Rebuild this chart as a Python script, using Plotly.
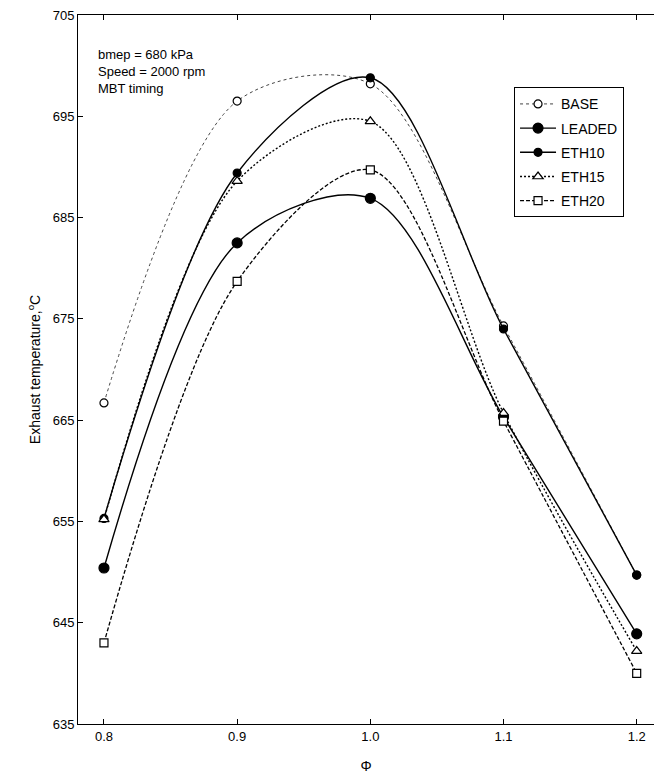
import plotly.graph_objects as go

# Equivalence ratio
phi = [0.8, 0.9, 1.0, 1.1, 1.2]

# Exhaust temperature (°C) per fuel
base = [666.7, 696.5, 698.2, 674.3, 649.7]
leaded = [650.4, 682.5, 686.9, 665.3, 643.9]
eth10 = [655.3, 689.4, 698.8, 674.0, 649.7]
eth15 = [655.2, 688.6, 694.5, 665.7, 642.2]
eth20 = [643.0, 678.7, 689.7, 664.9, 640.0]

x_ticks = [0.8, 0.9, 1.0, 1.1, 1.2]
x_tick_text = ["0.8", "0.9", "1.0", "1.1", "1.2"]
y_ticks = [635, 645, 655, 665, 675, 685, 695, 705]

FONT = "Liberation Sans, Arial, sans-serif"

series = [
    # name, values, symbol, size, fill, dash, width, line colour, legend rank
    ("LEADED", leaded, "circle", 10, "black", "solid", 1.4, "black", 2),
    ("BASE", base, "circle", 8, "white", "dot", 1.0, "#444444", 1),
    ("ETH10", eth10, "circle", 8, "black", "solid", 1.4, "black", 3),
    ("ETH15", eth15, "triangle-up", 9, "white", "2px,2px", 1.4, "black", 4),
    ("ETH20", eth20, "square", 8, "white", "4px,2px", 1.3, "black", 5),
]

fig = go.Figure()
for name, vals, sym, size, fill, dash, width, lcol, rank in series:
    fig.add_trace(go.Scatter(
        x=phi, y=vals, name=name, mode="lines+markers",
        line=dict(color=lcol, width=width, dash=dash, shape="spline", smoothing=0.9),
        marker=dict(symbol=sym, size=size, color=fill,
                    line=dict(color="black", width=1.2)),
        legendgroup=name, legendrank=rank,
    ))

fig.add_annotation(
    x=0, y=1, xref="paper", yref="paper", xanchor="left", yanchor="top",
    xshift=18, yshift=-30, align="left", showarrow=False,
    text="bmep = 680 kPa<br>Speed = 2000 rpm<br>MBT timing",
    font=dict(family=FONT, size=13, color="black"),
)

fig.update_layout(
    width=654, height=784,
    margin=dict(l=78, r=0, t=15, b=60),
    paper_bgcolor="white", plot_bgcolor="white",
    font=dict(family=FONT, size=13, color="black"),
    showlegend=True,
    legend=dict(
        x=0.757, y=0.898, xanchor="left", yanchor="top",
        bordercolor="black", borderwidth=1, bgcolor="white",
        font=dict(family=FONT, size=14, color="black"),
        tracegroupgap=3, itemwidth=36,
    ),
    xaxis=dict(
        range=[0.7805, 1.213], tickvals=x_ticks, ticktext=x_tick_text,
        ticks="inside", ticklen=5, tickcolor="black", showgrid=False, zeroline=False,
        showline=True, linecolor="black", linewidth=1, mirror="ticks",
        title=dict(text="Φ", font=dict(family=FONT, size=14), standoff=18),
    ),
    yaxis=dict(
        range=[635, 705], tickvals=y_ticks,
        ticks="inside", ticklen=5, tickcolor="black", showgrid=False, zeroline=False,
        showline=True, linecolor="black", linewidth=1,
        title=dict(text="Exhaust temperature,<sup>o</sup>C", font=dict(family=FONT, size=14), standoff=8),
    ),
)

fig.write_html("out.html")
